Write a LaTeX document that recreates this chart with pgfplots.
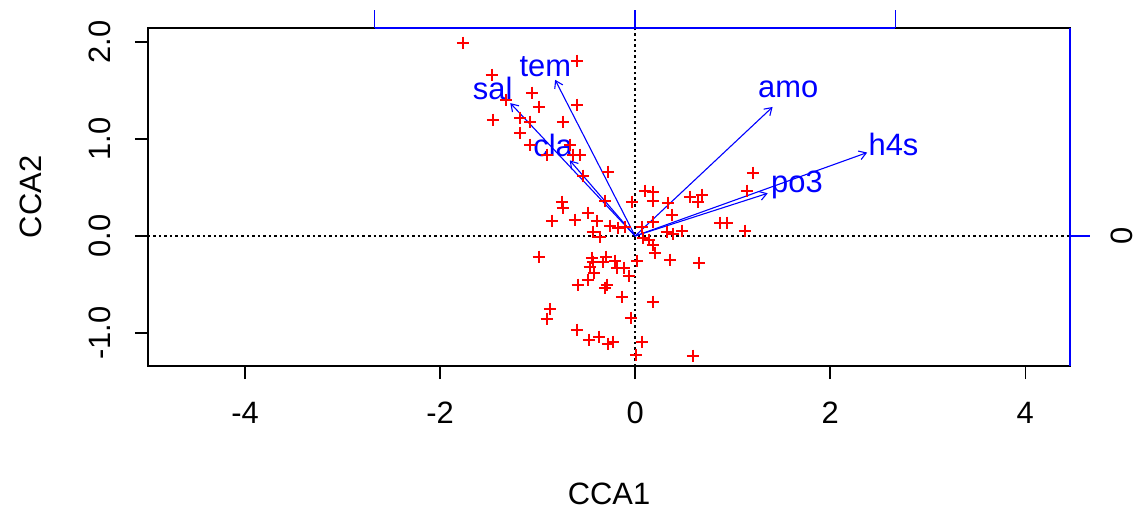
\documentclass[border=0pt]{standalone}
\usepackage{fontspec}
\setmainfont{Liberation Sans}
\usepackage{pgfplots}
\usepackage{pgfplotstable}
\pgfplotsset{compat=1.18}
\usetikzlibrary{arrows.meta}

\pgfplotstableread{
x y
-1.764 1.990
-0.595 1.804
-1.467 1.660
-1.056 1.474
-1.323 1.402
-0.985 1.330
-0.595 1.351
-1.456 1.196
-1.179 1.216
-1.077 1.175
-0.738 1.175
-1.179 1.062
-1.077 0.938
-0.667 0.938
-0.903 0.835
-0.636 0.835
-0.564 0.835
-0.277 0.660
-0.533 0.619
0.103 0.464
0.185 0.454
0.185 0.361
-0.031 0.351
-0.308 0.361
-0.749 0.351
-0.738 0.289
0.338 0.340
-0.482 0.237
0.379 0.216
-0.851 0.155
-0.615 0.165
-0.390 0.155
-0.256 0.103
-0.174 0.082
-0.103 0.093
-0.431 0.041
-0.359 -0.010
0.082 -0.021
0.144 -0.041
0.185 -0.093
0.205 -0.175
0.359 -0.247
-0.985 -0.216
-0.441 -0.227
-0.431 -0.268
-0.297 -0.216
-0.328 -0.268
-0.205 -0.258
0.021 -0.258
-0.462 -0.320
-0.185 -0.330
-0.113 -0.330
-0.421 -0.381
-0.062 -0.412
-0.482 -0.454
-0.585 -0.505
-0.287 -0.505
-0.308 -0.536
-0.133 -0.629
0.185 -0.680
-0.872 -0.753
-0.903 -0.856
-0.041 -0.845
-0.595 -0.969
-0.472 -1.072
-0.369 -1.041
-0.277 -1.113
-0.226 -1.093
0.072 -1.093
0.010 -1.227
0.595 -1.237
0.656 -0.278
0.564 0.402
0.687 0.423
0.646 0.351
1.210 0.649
1.149 0.464
0.872 0.134
0.944 0.134
1.128 0.052
0.482 0.052
0.328 0.041
0.390 0.021
0.072 0.093
0.185 0.144
}\sites

\pgfplotstableread{
x y
-0.82 1.61
-1.28 1.37
-0.67 0.78
1.41 1.33
2.38 0.86
1.36 0.44
}\arrowsdata

\begin{document}
\begin{tikzpicture}[font=\fontsize{31}{37}\selectfont]
\begin{axis}[
  scale only axis, width=922bp, height=338bp,
  xmin=-4.995, xmax=4.46, ymin=-1.34, ymax=2.144,
  clip=false,
  axis line style={line width=1.3bp, black},
  xtick={-4,-2,0,2,4}, xticklabels={-4,-2,0,2,4},
  ytick={-1,0,1,2}, yticklabels={-1.0,0.0,1.0,2.0},
  xtick pos=bottom, ytick pos=left,
  tick align=outside, major tick length=13bp,
  tick style={line width=1.3bp, black},
  xticklabel style={anchor=north, inner sep=0pt, yshift=-23bp},
  yticklabel style={xshift=-24bp, rotate=90, anchor=south, inner sep=0pt},
  xlabel={CCA1}, ylabel={CCA2},
  every axis x label/.style={at={(axis description cs:0.5,-0.3787)}, anchor=center, inner sep=0pt},
  every axis y label/.style={at={(axis description cs:-0.1269,0.5)}, rotate=90, anchor=center, inner sep=0pt},
]
% dotted zero lines
\draw[black, line width=1.3bp, dash pattern=on 2.5bp off 3bp] (axis cs:0,-1.34) -- (axis cs:0,2.144);
\draw[black, line width=1.3bp, dash pattern=on 2.5bp off 3bp] (axis cs:-4.995,0) -- (axis cs:4.46,0);
% site scores
\addplot[only marks, mark=+, mark size=6.3bp, red, mark options={line width=1.6bp}] table {\sites};
% biplot arrows
\addplot[blue, line width=1.1bp, -{Straight Barb[length=7bp,width=9bp]}, quiver={u=\thisrow{x}, v=\thisrow{y}}, mark=none] table[x expr=0, y expr=0] {\arrowsdata};
\node[blue] at (axis cs:-0.92,1.75) {tem};
\node[blue] at (axis cs:-1.46,1.52) {sal};
\node[blue] at (axis cs:-0.84,0.93) {cla};
\node[blue] at (axis cs:1.57,1.51) {amo};
\node[blue] at (axis cs:2.65,0.94) {h4s};
\node[blue] at (axis cs:1.66,0.53) {po3};
% top axis (blue)
\draw[blue, line width=1.3bp] (axis cs:-2.67,2.144) -- (axis cs:2.67,2.144);
\draw[blue, line width=1.3bp] (axis cs:-2.67,2.144) -- ([yshift=18bp]axis cs:-2.67,2.144);
\draw[blue, line width=1.3bp] (axis cs:0,2.144) -- ([yshift=18bp]axis cs:0,2.144);
\draw[blue, line width=1.3bp] (axis cs:2.67,2.144) -- ([yshift=18bp]axis cs:2.67,2.144);
% right axis (blue)
\draw[blue, line width=1.3bp] (axis cs:4.46,-1.34) -- (axis cs:4.46,2.144);
\draw[blue, line width=1.3bp] (axis cs:4.46,0) -- ([xshift=20bp]axis cs:4.46,0);
\node[rotate=90, anchor=center, inner sep=0pt] at ([xshift=52bp]axis cs:4.46,0) {0};
\end{axis}
\pgfresetboundingbox
\path[use as bounding box] ([xshift=-148bp,yshift=-144bp]current axis.south west) rectangle ([xshift=68bp,yshift=28bp]current axis.north east);
\end{tikzpicture}
\end{document}
